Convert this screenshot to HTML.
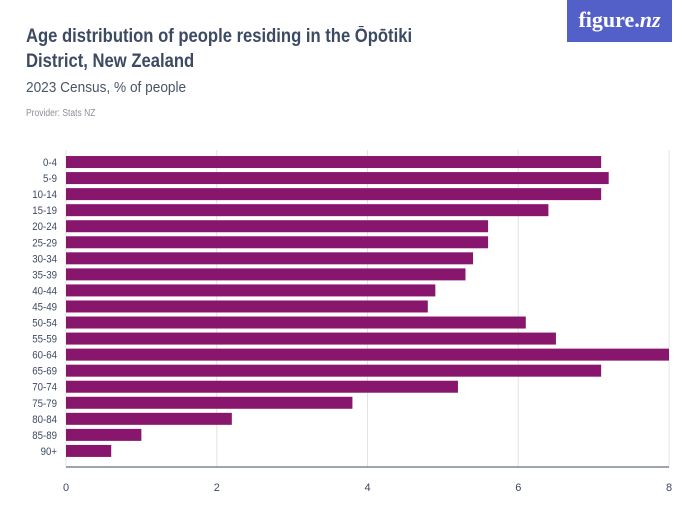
<!DOCTYPE html>
<html><head><meta charset="utf-8"><style>
body{margin:0;background:#fff;font-family:"Liberation Sans",sans-serif;}
#wrap{position:relative;width:700px;height:525px;overflow:hidden;}
.t{position:absolute;white-space:nowrap;transform-origin:0 0;}
</style></head><body>
<div id="wrap">
<div class="t" style="left:26px;top:24px;font-size:19px;font-weight:bold;color:#3d4a63;line-height:25px;transform:scaleX(0.875);">Age distribution of people residing in the Ōpōtiki<br>District, New Zealand</div>
<div class="t" style="left:26px;top:79px;font-size:15px;color:#4a5568;transform:scaleX(0.91);">2023 Census, % of people</div>
<div class="t" style="left:26px;top:108px;font-size:10px;color:#8a8f99;transform:scaleX(0.85);">Provider: Stats NZ</div>
<div style="position:absolute;left:567px;top:0;width:105px;height:42px;background:#5360c8;color:#fff;font-family:'Liberation Serif',serif;font-size:22px;font-weight:bold;text-align:center;line-height:40px;">figure.<i>nz</i></div>
<svg id="chart" width="700" height="525" style="position:absolute;left:0;top:0"></svg>
</div>
<script>
const categories=["0-4","5-9","10-14","15-19","20-24","25-29","30-34","35-39","40-44","45-49","50-54","55-59","60-64","65-69","70-74","75-79","80-84","85-89","90+"];
const values=[7.1,7.2,7.1,6.4,5.6,5.6,5.4,5.3,4.9,4.8,6.1,6.5,8.0,7.1,5.2,3.8,2.2,1.0,0.6];
const ticks=[0,2,4,6,8];
const NS="http://www.w3.org/2000/svg";
const svg=document.getElementById('chart');
const x0=66,x1=669,top0=154,step=16.05,bh=12,axisY=467;
const xs=v=>x0+(v/8)*(x1-x0);
function mk(t,a){const e=document.createElementNS(NS,t);for(const k in a)e.setAttribute(k,a[k]);svg.appendChild(e);return e;}
ticks.forEach(t=>{
 const g=mk('line',{x1:xs(t),x2:xs(t),y1:top0-4,y2:axisY,stroke:'#e3e3e3','stroke-width':1});
 
 
 const l=mk('text',{x:xs(t),y:axisY+24,'text-anchor':'middle','font-size':11,fill:'#3d4a63','font-family':'Liberation Sans, sans-serif'});
 l.textContent=t;
 
 
});
categories.forEach((c,i)=>{
 const y=top0+i*step+(step-bh)/2;
 const r=mk('rect',{x:x0,y:y,width:xs(values[i])-x0,height:bh,fill:'#87166c'});
 
 
 const l=mk('text',{x:57,y:y+bh/2+4,'text-anchor':'end','font-size':11,fill:'#3d4a63','font-family':'Liberation Sans, sans-serif','textLength':'','lengthAdjust':'spacingAndGlyphs'});
 l.removeAttribute('textLength');
 l.setAttribute('transform','translate(57,0) scale(0.88,1) translate(-57,0)');
 l.textContent=c;
 
 
});
const ax=mk('line',{x1:x0,x2:x1,y1:axisY,y2:axisY,stroke:'#3d4a63'});


</script>
</body></html>
